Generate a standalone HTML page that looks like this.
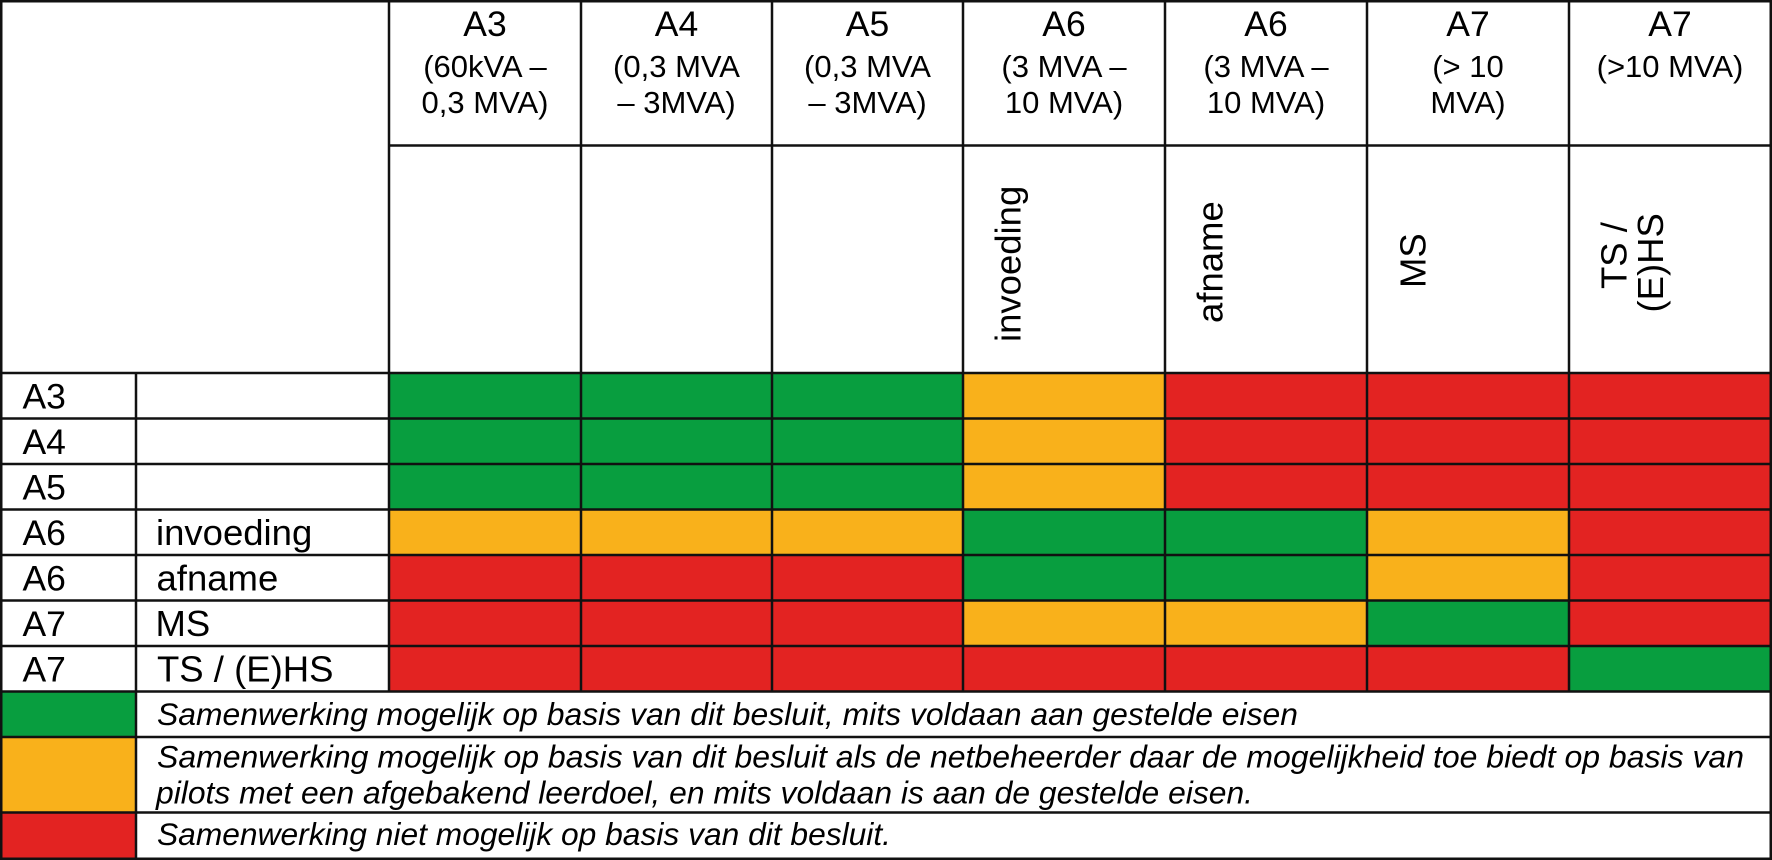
<!DOCTYPE html>
<html>
<head>
<meta charset="utf-8">
<style>
html,body{margin:0;padding:0;background:#fff;}
svg{display:block;}
text{font-family:"Liberation Sans",Arial,sans-serif;fill:#000;}
.m{font-size:35.5px;}
.s{font-size:31px;}
.r{font-size:36.5px;}
.l{font-size:31.6px;font-style:italic;}
</style>
</head>
<body>
<svg width="1772" height="860" viewBox="0 0 1772 860" xmlns="http://www.w3.org/2000/svg">
<rect x="0" y="0" width="1772" height="860" fill="#fff"/>
<!-- Row 0 -->
<g>
<rect x="389" y="373" width="192" height="45.5" fill="#089e3f"/>
<rect x="581" y="373" width="191" height="45.5" fill="#089e3f"/>
<rect x="772" y="373" width="191" height="45.5" fill="#089e3f"/>
<rect x="963" y="373" width="202" height="45.5" fill="#f9b11b"/>
<rect x="1165" y="373" width="202" height="45.5" fill="#e32322"/>
<rect x="1367" y="373" width="202" height="45.5" fill="#e32322"/>
<rect x="1569" y="373" width="202" height="45.5" fill="#e32322"/>
<!-- Row 1 -->
<rect x="389" y="418.5" width="192" height="45.5" fill="#089e3f"/>
<rect x="581" y="418.5" width="191" height="45.5" fill="#089e3f"/>
<rect x="772" y="418.5" width="191" height="45.5" fill="#089e3f"/>
<rect x="963" y="418.5" width="202" height="45.5" fill="#f9b11b"/>
<rect x="1165" y="418.5" width="202" height="45.5" fill="#e32322"/>
<rect x="1367" y="418.5" width="202" height="45.5" fill="#e32322"/>
<rect x="1569" y="418.5" width="202" height="45.5" fill="#e32322"/>
<!-- Row 2 -->
<rect x="389" y="464" width="192" height="45.5" fill="#089e3f"/>
<rect x="581" y="464" width="191" height="45.5" fill="#089e3f"/>
<rect x="772" y="464" width="191" height="45.5" fill="#089e3f"/>
<rect x="963" y="464" width="202" height="45.5" fill="#f9b11b"/>
<rect x="1165" y="464" width="202" height="45.5" fill="#e32322"/>
<rect x="1367" y="464" width="202" height="45.5" fill="#e32322"/>
<rect x="1569" y="464" width="202" height="45.5" fill="#e32322"/>
<!-- Row 3 -->
<rect x="389" y="509.5" width="192" height="45.5" fill="#f9b11b"/>
<rect x="581" y="509.5" width="191" height="45.5" fill="#f9b11b"/>
<rect x="772" y="509.5" width="191" height="45.5" fill="#f9b11b"/>
<rect x="963" y="509.5" width="202" height="45.5" fill="#089e3f"/>
<rect x="1165" y="509.5" width="202" height="45.5" fill="#089e3f"/>
<rect x="1367" y="509.5" width="202" height="45.5" fill="#f9b11b"/>
<rect x="1569" y="509.5" width="202" height="45.5" fill="#e32322"/>
<!-- Row 4 -->
<rect x="389" y="555" width="192" height="45.5" fill="#e32322"/>
<rect x="581" y="555" width="191" height="45.5" fill="#e32322"/>
<rect x="772" y="555" width="191" height="45.5" fill="#e32322"/>
<rect x="963" y="555" width="202" height="45.5" fill="#089e3f"/>
<rect x="1165" y="555" width="202" height="45.5" fill="#089e3f"/>
<rect x="1367" y="555" width="202" height="45.5" fill="#f9b11b"/>
<rect x="1569" y="555" width="202" height="45.5" fill="#e32322"/>
<!-- Row 5 -->
<rect x="389" y="600.5" width="192" height="45.5" fill="#e32322"/>
<rect x="581" y="600.5" width="191" height="45.5" fill="#e32322"/>
<rect x="772" y="600.5" width="191" height="45.5" fill="#e32322"/>
<rect x="963" y="600.5" width="202" height="45.5" fill="#f9b11b"/>
<rect x="1165" y="600.5" width="202" height="45.5" fill="#f9b11b"/>
<rect x="1367" y="600.5" width="202" height="45.5" fill="#089e3f"/>
<rect x="1569" y="600.5" width="202" height="45.5" fill="#e32322"/>
<!-- Row 6 -->
<rect x="389" y="646" width="192" height="45.5" fill="#e32322"/>
<rect x="581" y="646" width="191" height="45.5" fill="#e32322"/>
<rect x="772" y="646" width="191" height="45.5" fill="#e32322"/>
<rect x="963" y="646" width="202" height="45.5" fill="#e32322"/>
<rect x="1165" y="646" width="202" height="45.5" fill="#e32322"/>
<rect x="1367" y="646" width="202" height="45.5" fill="#e32322"/>
<rect x="1569" y="646" width="202" height="45.5" fill="#089e3f"/>
<!-- Legend swatches -->
<rect x="2" y="691.5" width="134" height="45.5" fill="#089e3f"/>
<rect x="2" y="737" width="134" height="75.5" fill="#f9b11b"/>
<rect x="2" y="812.5" width="134" height="45.5" fill="#e32322"/>
</g>

<!-- Grid lines -->
<g stroke="#111" stroke-width="2.5" fill="none">
<rect x="1.25" y="1.25" width="1769.5" height="857.5"/>
<line x1="389" y1="145.5" x2="1771" y2="145.5"/>
<line x1="2" y1="373" x2="1771" y2="373"/>
<line x1="2" y1="418.5" x2="1771" y2="418.5"/>
<line x1="2" y1="464" x2="1771" y2="464"/>
<line x1="2" y1="509.5" x2="1771" y2="509.5"/>
<line x1="2" y1="555" x2="1771" y2="555"/>
<line x1="2" y1="600.5" x2="1771" y2="600.5"/>
<line x1="2" y1="646" x2="1771" y2="646"/>
<line x1="2" y1="691.5" x2="1771" y2="691.5"/>
<line x1="2" y1="737" x2="1771" y2="737"/>
<line x1="2" y1="812.5" x2="1771" y2="812.5"/>
<line x1="136" y1="373" x2="136" y2="858"/>
<line x1="389" y1="2" x2="389" y2="691.5"/>
<line x1="581" y1="2" x2="581" y2="691.5"/>
<line x1="772" y1="2" x2="772" y2="691.5"/>
<line x1="963" y1="2" x2="963" y2="691.5"/>
<line x1="1165" y1="2" x2="1165" y2="691.5"/>
<line x1="1367" y1="2" x2="1367" y2="691.5"/>
<line x1="1569" y1="2" x2="1569" y2="691.5"/>
</g>

<!-- Header texts -->
<g text-anchor="middle">
<text class="m" x="485" y="36">A3</text>
<text class="s" x="485" y="77">(60kVA –</text>
<text class="s" x="485" y="113">0,3 MVA)</text>

<text class="m" x="676.5" y="36">A4</text>
<text class="s" x="676.5" y="77">(0,3 MVA</text>
<text class="s" x="676.5" y="113">– 3MVA)</text>

<text class="m" x="867.5" y="36">A5</text>
<text class="s" x="867.5" y="77">(0,3 MVA</text>
<text class="s" x="867.5" y="113">– 3MVA)</text>

<text class="m" x="1064" y="36">A6</text>
<text class="s" x="1064" y="77">(3 MVA –</text>
<text class="s" x="1064" y="113">10 MVA)</text>

<text class="m" x="1266" y="36">A6</text>
<text class="s" x="1266" y="77">(3 MVA –</text>
<text class="s" x="1266" y="113">10 MVA)</text>

<text class="m" x="1468" y="36">A7</text>
<text class="s" x="1468" y="77">(&gt; 10</text>
<text class="s" x="1468" y="113">MVA)</text>

<text class="m" x="1670" y="36">A7</text>
<text class="s" x="1670" y="77">(&gt;10 MVA)</text>
</g>

<!-- Rotated header texts -->
<text class="r" transform="translate(1020.7,342) rotate(-90)">invoeding</text>
<text class="r" transform="translate(1222.5,323) rotate(-90)">afname</text>
<text class="r" transform="translate(1425.6,288) rotate(-90)">MS</text>
<text class="r" transform="translate(1626.5,289) rotate(-90)">TS /</text>
<text class="r" transform="translate(1663,312.5) rotate(-90)">(E)HS</text>

<!-- Row labels -->
<g class="m">
<text class="m" x="22.5" y="408.5">A3</text>
<text class="m" x="22.5" y="454">A4</text>
<text class="m" x="22.5" y="499.5">A5</text>
<text class="m" x="22.5" y="545">A6</text>
<text class="m" x="22.5" y="590.5">A6</text>
<text class="m" x="22.5" y="636">A7</text>
<text class="m" x="22.5" y="681.5">A7</text>
</g>
<text class="r" x="156" y="545">invoeding</text>
<text class="r" x="156.5" y="590.5">afname</text>
<text class="r" x="155.5" y="636">MS</text>
<text class="r" x="157" y="681.5">TS / (E)HS</text>

<!-- Legend texts -->
<text class="l" x="157" y="725" textLength="1141" lengthAdjust="spacingAndGlyphs">Samenwerking mogelijk op basis van dit besluit, mits voldaan aan gestelde eisen</text>
<text class="l" x="157" y="767.5" textLength="1587" lengthAdjust="spacingAndGlyphs">Samenwerking mogelijk op basis van dit besluit als de netbeheerder daar de mogelijkheid toe biedt op basis van</text>
<text class="l" x="156" y="803.5" textLength="1097" lengthAdjust="spacingAndGlyphs">pilots met een afgebakend leerdoel, en mits voldaan is aan de gestelde eisen.</text>
<text class="l" x="157" y="845" textLength="734" lengthAdjust="spacingAndGlyphs">Samenwerking niet mogelijk op basis van dit besluit.</text>
</svg>
</body>
</html>
